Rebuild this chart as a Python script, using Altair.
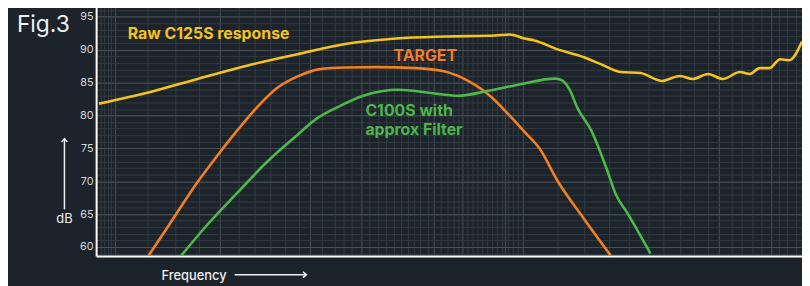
import altair as alt
import pandas as pd

# ---------------- data ----------------
# x: relative position along the unlabelled (log) frequency axis, 0..100
raw_x = [0.4, 7.4, 14.5, 21.5, 28.5, 35.5, 42.5, 49.5, 56.5, 58.6, 60.7, 62.1, 65.4,
         69.1, 71.5, 74.3, 77.1, 80.1, 82.7, 84.5, 86.7, 88.8, 91.2, 92.6, 94.0,
         95.4, 96.9, 98.2, 100.0]
raw_db = [81.8, 83.5, 85.6, 87.6, 89.3, 90.9, 91.7, 92.0, 92.15, 92.3, 91.7, 91.4, 90.05,
          88.85, 87.8, 86.6, 86.45, 85.25, 86.0, 85.55, 86.3, 85.55, 86.6, 86.3, 87.2,
          87.2, 88.55, 88.4, 91.25]

target_x = [7.43, 10.24, 14.45, 17.25, 20.06, 22.86, 25.67, 28.47, 31.7, 35.48, 39.69,
            45.3, 49.1, 52.7, 56.1, 58.3, 60.7, 62.8, 65.4, 69.1, 72.9]
target_db = [58.7, 63.2, 70.0, 74.0, 77.8, 81.3, 84.2, 85.9, 87.05, 87.3, 87.35,
             87.2, 86.75, 85.25, 82.7, 80.3, 77.5, 75.0, 70.0, 64.3, 58.7]

c100_x = [12.06, 15.85, 20.06, 24.26, 28.47, 31.28, 34.08, 37.87, 42.92, 47.12, 51.33,
          55.54, 60.31, 64.94, 65.92, 67.04, 68.16, 70.13, 72.37, 73.63, 75.18, 78.54]
c100_db = [58.7, 63.5, 68.3, 73.0, 77.0, 79.55, 81.2, 83.0, 83.9, 83.45, 83.0,
           83.75, 84.8, 85.6, 85.4, 84.0, 81.2, 77.75, 71.75, 68.0, 65.3, 59.0]

series_names = ["Raw C125S response", "TARGET", "C100S with approx Filter"]

label_text = ["Raw C125S response", "TARGET", "C100S with", "approx Filter"]
label_x = [4.49, 46.63, 38.15, 38.15]
label_db = [92.4, 89.05, 80.6, 77.76]
label_series = [0, 1, 2, 2]
label_align = ["left", "center", "left", "left"]

# irregular frequency grid of the measurement screenshot
grid_minor_x = [0.66, 1.12, 1.68, 2.10, 7.34, 11.18, 14.54, 20.15, 22.48, 24.73, 26.83,
                28.71, 31.98, 33.76, 35.02, 36.19, 38.75, 39.93, 41.09, 42.26, 43.2,
                44.14, 45.06, 45.9, 46.94, 48.81, 49.75, 50.59, 51.37, 52.55, 53.25,
                53.95, 54.66, 55.36, 56.06, 56.76, 57.46, 58.39, 59.09, 59.79, 65.4,
                69.19, 72.61, 75.41, 78.22, 80.41, 82.75, 84.76, 86.63, 90.0, 91.49,
                92.95, 94.29, 96.77, 97.94, 99.12]
grid_major_x = [2.71, 17.49, 30.34, 37.59, 47.87, 51.85, 57.92, 60.49, 88.26, 95.61]
grid_minor_y = list(range(59, 97))
grid_major_y = list(range(60, 100, 5))
y_ticks = list(range(60, 100, 5))

# ---------------- styling ----------------
BG = "#1c232b"
COLORS = ["#f4c41a", "#f2801f", "#4db949"]
TEXT_COLORS = ["#f2c31b", "#f07e22", "#4cb64a"]
FONT = "Inter"

xs = alt.Scale(domain=[0, 100], nice=False, zero=False)
ys = alt.Scale(domain=[58.65, 96.73], nice=False, zero=False)

rows = []
for i, (xx, yy) in enumerate([(raw_x, raw_db), (target_x, target_db), (c100_x, c100_db)]):
    for a, b in zip(xx, yy):
        rows.append({"f": a, "db": b, "series": series_names[i], "color": COLORS[i], "order": i})
curves_df = pd.DataFrame(rows)

labels_df = pd.DataFrame({
    "f": label_x, "db": label_db, "text": label_text, "align": label_align,
    "color": [TEXT_COLORS[s] for s in label_series],
})

dummy = pd.DataFrame({"f": [0, 100], "db": [58.65, 96.73]})


def grid_layer(xvals, yvals, color):
    return alt.Chart(dummy).mark_point(opacity=0).encode(
        x=alt.X("f:Q", scale=xs, axis=alt.Axis(
            values=xvals, grid=True, gridColor=color, gridWidth=1, labels=False,
            ticks=False, domain=False, title=None, orient="bottom")),
        y=alt.Y("db:Q", scale=ys, axis=alt.Axis(
            values=yvals, grid=True, gridColor=color, gridWidth=1, labels=False,
            ticks=False, domain=False, title=None, orient="left")),
    )


minor = grid_layer(grid_minor_x, grid_minor_y, "#333b42")
major = grid_layer(grid_major_x, grid_major_y, "#485056")

curves = alt.Chart(curves_df).mark_line(
    strokeWidth=2.6, interpolate="monotone", clip=True
).encode(
    x=alt.X("f:Q", scale=xs, axis=alt.Axis(
        labels=False, ticks=False, grid=False, title=None, domain=True,
        domainColor="#ffffff", domainWidth=2, orient="bottom")),
    y=alt.Y("db:Q", scale=ys, axis=alt.Axis(
        values=y_ticks, grid=False, ticks=False, title=None, domain=True,
        domainColor="#ffffff", domainWidth=2, labelColor="#d3d7db",
        labelFont=FONT, labelFontSize=11, labelPadding=3, orient="left")),
    color=alt.Color("color:N", scale=None),
    detail="series:N",
    order="order:Q",
)


def label_layer(align):
    return alt.Chart(labels_df).transform_filter(
        alt.datum.align == align
    ).mark_text(
        font=FONT, fontSize=16, fontWeight="bold", align=align, baseline="middle"
    ).encode(
        x=alt.X("f:Q", scale=xs, axis=None),
        y=alt.Y("db:Q", scale=ys, axis=None),
        text="text:N",
        color=alt.Color("color:N", scale=None),
    )


labels_left = label_layer("left")
labels_center = label_layer("center")

one = pd.DataFrame({"k": [0]})
WHITE = "#eef0f2"

fig_title = alt.Chart(one).mark_text(
    text="Fig.3", font=FONT, fontSize=23, color=WHITE, align="left",
    baseline="alphabetic"
).encode(x=alt.value(-80), y=alt.value(27))

db_text = alt.Chart(one).mark_text(
    text="dB", font=FONT, fontSize=13, color=WHITE, align="center",
    baseline="alphabetic"
).encode(x=alt.value(-32), y=alt.value(220))

freq_text = alt.Chart(one).mark_text(
    text="Frequency", font=FONT, fontSize=13, fontWeight=500, color=WHITE,
    align="left", baseline="alphabetic"
).encode(x=alt.value(66), y=alt.value(277))

up_line = alt.Chart(one).mark_rule(color=WHITE, strokeWidth=1.5).encode(
    x=alt.value(-32), y=alt.value(135), y2=alt.value(206))
up_head = alt.Chart(one).mark_point(
    shape="M-1,1.2L0,0L1,1.2", filled=False, size=36, color=WHITE,
    strokeWidth=1.5, opacity=1
).encode(x=alt.value(-32), y=alt.value(134.5))

right_line = alt.Chart(one).mark_rule(color=WHITE, strokeWidth=1.5).encode(
    x=alt.value(140), x2=alt.value(212), y=alt.value(272))
right_head = alt.Chart(one).mark_point(
    shape="M-1.2,-1L0,0L-1.2,1", filled=False, size=36, color=WHITE,
    strokeWidth=1.5, opacity=1
).encode(x=alt.value(212.5), y=alt.value(272))

chart = alt.layer(
    minor, major, curves, labels_left, labels_center,
    fig_title, db_text, freq_text, up_line, up_head, right_line, right_head
).resolve_axis(x="independent", y="independent").properties(
    width=713, height=253,
    autosize=alt.AutoSizeParams(type="none"),
    padding={"left": 89, "top": -4, "right": 0, "bottom": 29},
    background=BG,
).configure_view(stroke=None, fill=BG)

chart.save("out.html", embed_options={"renderer": "svg", "actions": False})
